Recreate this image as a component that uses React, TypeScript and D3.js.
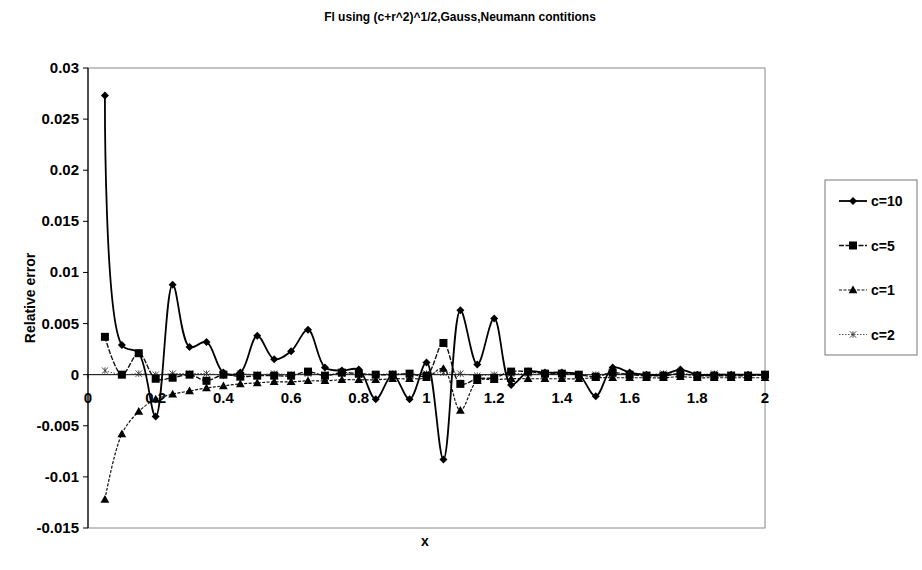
import React from "react";
import * as d3 from "d3";

const xValues = [
  0.05, 0.1, 0.15, 0.2, 0.25, 0.3, 0.35, 0.4, 0.45, 0.5,
  0.55, 0.6, 0.65, 0.7, 0.75, 0.8, 0.85, 0.9, 0.95, 1.0,
  1.05, 1.1, 1.15, 1.2, 1.25, 1.3, 1.35, 1.4, 1.45, 1.5,
  1.55, 1.6, 1.65, 1.7, 1.75, 1.8, 1.85, 1.9, 1.95, 2.0,
];

const c10 = [
  0.0273, 0.0029, 0.0021, -0.0041, 0.0088, 0.0027, 0.0032, 0.0002, 0.0002, 0.0038,
  0.0015, 0.0023, 0.0044, 0.0007, 0.0004, 0.0005, -0.0024, 0.0, -0.0024, 0.0012,
  -0.0083, 0.0063, 0.001, 0.0055, -0.001, 0.0003, 0.0002, 0.0002, 0.0, -0.0021,
  0.0007, 0.0002, 0.0, 0.0, 0.0005, 0.0, 0.0, 0.0, 0.0, 0.0,
];

const c5 = [
  0.0037, 0.0, 0.0021, -0.0004, -0.0003, 0.0, -0.0006, 0.0, -0.0002, -0.0001,
  -0.0001, -0.0001, 0.0003, -0.0001, 0.0002, 0.0001, 0.0, 0.0, 0.0001, -0.0001,
  0.0031, -0.0009, -0.0004, -0.0003, 0.0003, 0.0003, 0.0001, 0.0001, 0.0, -0.0002,
  0.0002, 0.0, -0.0001, -0.0001, 0.0001, -0.0001, -0.0001, -0.0001, -0.0001, 0.0,
];

const c1 = [
  -0.0122, -0.0058, -0.0036, -0.0024, -0.0019, -0.0016, -0.0013, -0.0011, -0.0009, -0.0008,
  -0.0007, -0.0007, -0.0006, -0.0006, -0.0005, -0.0005, -0.0005, -0.0004, -0.0004, -0.0003,
  0.0006, -0.0035, -0.0006, -0.0005, -0.0004, -0.0004, -0.0004, -0.0004, -0.0004, -0.0003,
  -0.0003, -0.0003, -0.0003, -0.0003, -0.0002, -0.0003, -0.0003, -0.0003, -0.0003, -0.0003,
];

const c2 = [
  0.0004, 0.0, 0.0001, 0.0, 0.0001, 0.0001, 0.0001, 0.0, 0.0001, 0.0,
  0.0001, 0.0, 0.0001, 0.0, 0.0001, 0.0, 0.0, 0.0001, 0.0, 0.0001,
  0.0002, 0.0001, -0.0001, 0.0, 0.0001, 0.0001, 0.0, 0.0001, 0.0, 0.0,
  0.0001, 0.0, 0.0, 0.0001, 0.0, 0.0, 0.0001, 0.0, 0.0, 0.0,
];

const seriesNames = ["c=10", "c=5", "c=1", "c=2"];
const xTicks = [0, 0.2, 0.4, 0.6, 0.8, 1, 1.2, 1.4, 1.6, 1.8, 2];
const yTicks = [0.03, 0.025, 0.02, 0.015, 0.01, 0.005, 0, -0.005, -0.01, -0.015];
const titleText = "Fl using (c+r^2)^1/2,Gauss,Neumann contitions";
const yLabel = "Relative error";
const xLabel = "x";

const W = 922;
const H = 570;
const left = 88;
const right = 765;
const top = 68;
const bottom = 528;
const FONT = "'Liberation Sans', Arial, sans-serif";

const x = d3.scaleLinear().domain([0, 2]).range([left, right]);
const y = d3.scaleLinear().domain([-0.015, 0.03]).range([bottom, top]);

type Style = { dash: string; width: number; color: string; marker: string };
const styles: Style[] = [
  { dash: "", width: 1.8, color: "#000", marker: "diamond" },
  { dash: "5,1.5", width: 1.4, color: "#111", marker: "square" },
  { dash: "3,1.5", width: 1.2, color: "#111", marker: "triangle" },
  { dash: "1.5,1.5", width: 1, color: "#555", marker: "star" },
];

function Marker({ kind, cx, cy }: { kind: string; cx: number; cy: number }) {
  if (kind === "diamond") {
    const s = 4;
    return <path d={`M${cx},${cy - s}L${cx + s},${cy}L${cx},${cy + s}L${cx - s},${cy}Z`} fill="#000" />;
  }
  if (kind === "square") {
    const s = 4;
    return <rect x={cx - s} y={cy - s} width={2 * s} height={2 * s} fill="#000" />;
  }
  if (kind === "triangle") {
    const s = 4.4;
    return <path d={`M${cx},${cy - s}L${cx + s},${cy + s * 0.75}L${cx - s},${cy + s * 0.75}Z`} fill="#000" />;
  }
  const s = 3.2;
  return (
    <path
      d={`M${cx - s},${cy - s}L${cx + s},${cy + s}M${cx - s},${cy + s}L${cx + s},${cy - s}M${cx},${cy - s}L${cx},${cy + s}`}
      stroke="#333"
      strokeWidth={0.9}
    />
  );
}

export default function App() {
  const allSeries = [c10, c5, c1, c2];
  const line = d3
    .line<[number, number]>()
    .x((d) => x(d[0]))
    .y((d) => y(d[1]))
    .curve(d3.curveCatmullRom.alpha(0.5));

  const drawOrder = [3, 2, 1, 0];

  const legendLeft = 825;
  const legendRight = 917;
  const legendTop = 180;
  const legendBottom = 355;
  const legendStep = 44.5;
  const legendFirst = 201;

  return (
    <svg
      width={W}
      height={H}
      style={{ position: "absolute", left: 0, top: 0, background: "#fff" }}
      fontFamily={FONT}
    >
      <rect x={0} y={0} width={W} height={H} fill="#fff" />
      <text x={460} y={21} textAnchor="middle" fontSize={12} fontWeight="bold">
        {titleText}
      </text>

      {/* plot area border */}
      <rect x={left} y={top} width={right - left} height={bottom - top} fill="none" stroke="#888" strokeWidth={1} />
      {/* y axis */}
      <line x1={left} x2={left} y1={top} y2={bottom} stroke="#000" strokeWidth={1.2} />
      {yTicks.map((t) => (
        <g key={"yt" + t}>
          <line x1={left - 5} x2={left} y1={y(t)} y2={y(t)} stroke="#000" strokeWidth={1} />
          <text x={left - 9} y={y(t) + 5} textAnchor="end" fontSize={15} fontWeight="bold">
            {String(t)}
          </text>
        </g>
      ))}
      {/* x axis at zero */}
      <line x1={left} x2={right} y1={y(0)} y2={y(0)} stroke="#000" strokeWidth={1} />
      {xTicks.map((t) => (
        <g key={"xt" + t}>
          <line x1={x(t)} x2={x(t)} y1={y(0)} y2={y(0) + 4} stroke="#000" strokeWidth={1} />
          <text x={x(t)} y={y(0) + 28} textAnchor="middle" fontSize={15} fontWeight="bold">
            {String(t)}
          </text>
        </g>
      ))}

      {drawOrder.map((si) => {
        const data: [number, number][] = xValues.map((xv, i) => [xv, allSeries[si][i]]);
        const st = styles[si];
        return (
          <g key={"s" + si}>
            <path
              d={line(data) || ""}
              fill="none"
              stroke={st.color}
              strokeWidth={st.width}
              strokeDasharray={st.dash}
            />
            {data.map((d, i) => (
              <Marker key={i} kind={st.marker} cx={x(d[0])} cy={y(d[1])} />
            ))}
          </g>
        );
      })}

      <text
        transform={`translate(35,${(top + bottom) / 2}) rotate(-90)`}
        textAnchor="middle"
        fontSize={14}
        fontWeight="bold"
      >
        {yLabel}
      </text>
      <text x={425} y={546} textAnchor="middle" fontSize={14} fontWeight="bold">
        {xLabel}
      </text>

      {/* legend */}
      <rect
        x={legendLeft}
        y={legendTop}
        width={legendRight - legendLeft}
        height={legendBottom - legendTop}
        fill="#fff"
        stroke="#777"
        strokeWidth={1}
      />
      {seriesNames.map((name, i) => {
        const ly = legendFirst + i * legendStep;
        const st = styles[i];
        return (
          <g key={"lg" + i}>
            <line
              x1={839}
              x2={867}
              y1={ly}
              y2={ly}
              stroke={st.color}
              strokeWidth={st.width}
              strokeDasharray={st.dash}
            />
            <Marker kind={st.marker} cx={853} cy={ly} />
            <text x={871} y={ly + 5} fontSize={14} fontWeight="bold">
              {name}
            </text>
          </g>
        );
      })}
    </svg>
  );
}
